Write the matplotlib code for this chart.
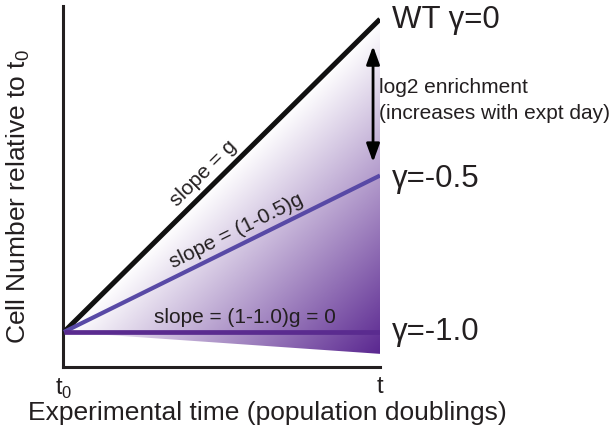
import matplotlib
matplotlib.use("Agg")
import matplotlib.pyplot as plt
import numpy as np
from matplotlib.colors import LinearSegmentedColormap
from matplotlib.patches import Polygon

plt.rcParams['font.family'] = ['Liberation Sans', 'DejaVu Sans']
plt.rcParams['mathtext.fontset'] = 'custom'
plt.rcParams['mathtext.rm'] = 'Liberation Sans'

# model values: log2 cell number = (1 + gamma) * g * t
t = np.array([0.0, 1.0])
g = 1.0
gammas = [0.0, -0.5, -1.0]
gamma_labels = ['WT \u03b3=0', '\u03b3=-0.5', '\u03b3=-1.0']
slope_labels = ['slope = g', 'slope = (1-0.5)g', 'slope = (1-1.0)g = 0']
fill_floor = -0.07  # lower edge of shaded wedge at t
tick_labels = ['t$_\\mathregular{0}$', 't']

TXT = '#231f20'
line_colors = ['#111111', '#5849a6', '#5a2b8f']
line_widths = [3.6, 3.0, 3.4]

fig = plt.figure(figsize=(6.16, 4.39), dpi=100)
ax = fig.add_axes([63 / 616, 1 - 368 / 439, 317 / 616, 361 / 439])

# gradient wedge: white along WT line, deepening toward bottom right
cmap = LinearSegmentedColormap.from_list('wedge', ['#ffffff', '#5a2790'])
xs = np.linspace(0, 1, 400)
ys = np.linspace(fill_floor, 1, 400)
X, Y = np.meshgrid(xs, ys)
im = ax.imshow(X - Y, extent=[0, 1, fill_floor, 1], origin='lower', cmap=cmap,
               vmin=0, vmax=1 - fill_floor, aspect='auto', interpolation='bilinear', zorder=1)
wedge = Polygon([[0, 0], [1, g], [1, fill_floor]], closed=True, facecolor='none',
                edgecolor='none', transform=ax.transData)
ax.add_patch(wedge)
im.set_clip_path(wedge)

for gam, c, lw in zip(gammas, line_colors, line_widths):
    ax.plot(t, (1 + gam) * g * t, color=c, lw=lw, solid_capstyle='butt', zorder=3)

# labels on the right
label_y = [0.974, 0.466, -0.022]
for lab, yy in zip(gamma_labels, label_y):
    ax.text(1.038, yy, lab, fontsize=22.5, color=TXT, ha='left', va='baseline')

# slope annotations sitting just above each line
slope_x = [0.475, 0.568, 0.573]
gap = 7.0  # points, perpendicular from line to text baseline
for lab, gam, xx in zip(slope_labels, gammas, slope_x):
    ang = np.arctan((1 + gam) * g * 313 / 316)
    ax.annotate(lab, xy=(xx, (1 + gam) * g * xx),
                xytext=(-np.sin(ang) * gap, np.cos(ang) * gap), textcoords='offset points',
                fontsize=15, color=TXT, ha='center', va='baseline',
                rotation=np.degrees(ang), rotation_mode='anchor', zorder=4)

# enrichment arrow
ax.annotate('', xy=(0.978, 0.914), xytext=(0.978, 0.543),
            arrowprops=dict(arrowstyle='<|-|>,head_length=0.55,head_width=0.2',
                            mutation_scale=20, lw=2, color='black',
                            shrinkA=0, shrinkB=0), zorder=4)
ax.text(0.997, 0.767, 'log2 enrichment', fontsize=15, color=TXT, ha='left', va='baseline')
ax.text(0.997, 0.684, '(increases with expt day)', fontsize=15, color=TXT, ha='left', va='baseline')

ax.set_xlim(-0.003, 1.0)
ax.set_ylim(-0.112, 1.042)
ax.set_xticks(t)
ax.set_xticklabels(tick_labels, fontsize=17, color=TXT)
ax.tick_params(axis='x', length=0, pad=6)
ax.set_yticks([])
for s in ['top', 'right']:
    ax.spines[s].set_visible(False)
for s in ['left', 'bottom']:
    ax.spines[s].set_linewidth(2.2)
    ax.spines[s].set_color(TXT)

fig.text(18 / 616, 1 - 197 / 439, 'Cell Number relative to t$_\\mathregular{0}$',
         fontsize=19, color=TXT, rotation=90, ha='center', va='center')
fig.text(267 / 616, 1 - 413 / 439, 'Experimental time (population doublings)',
         fontsize=19, color=TXT, ha='center', va='center')

fig.savefig('out.png', dpi=100)
